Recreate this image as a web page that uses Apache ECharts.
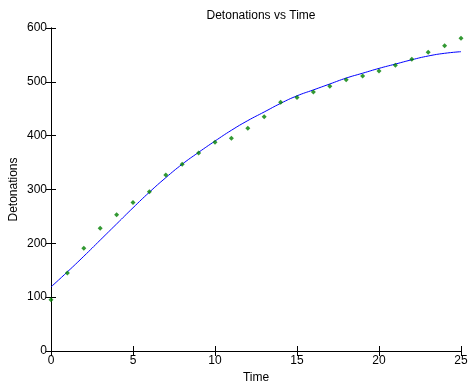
<!DOCTYPE html>
<html>
<head>
<meta charset="utf-8">
<script src="https://cdn.jsdelivr.net/npm/echarts@6/dist/echarts.min.js"></script>
<style>html,body{margin:0;padding:0;background:#fff}#c{width:468px;height:389px}</style>
</head>
<body>
<div id="c"></div>
<script>
const time = [0,1,2,3,4,5,6,7,8,9,10,11,12,13,14,15,16,17,18,19,20,21,22,23,24,25];
const detonations = [95,145,191,228,253,276,296,327,347,368,388,395,414,435,462,471,481,492,504,511,520,531,542,555,567,581];
const fitValues = [119,147,176,206,236,266,295,322,347,369,390,410,428,444,460,474,485,496,507,516,525,533,541,548,553,556];
const xTicks = [0,5,10,15,20,25];
const yTicks = [0,100,200,300,400,500,600];

const font = 'Liberation Sans, Arial, sans-serif';
const chart = echarts.init(document.getElementById('c'));
const axisLine = {show:true, lineStyle:{color:'#000', width:1}};
const tick = {show:true, inside:true, length:5, lineStyle:{color:'#000'}};
chart.setOption({
  animation:false,
  backgroundColor:'#fff',
  title:{text:'Detonations vs Time', left:256, top:5, textAlign:'center',
    textStyle:{fontFamily:font, fontSize:12, fontWeight:'normal', color:'#000'}},
  grid:{left:51, top:28, width:410, height:323, containLabel:false, outerBoundsMode:'none'},
  xAxis:[{type:'value', min:xTicks[0], max:xTicks[xTicks.length-1], interval:5,
      axisLine, axisTick:tick, splitLine:{show:false},
      axisLabel:{fontFamily:font, fontSize:12, color:'#000', margin:4},
      name:'Time', nameLocation:'middle', nameGap:21, nameMoveOverlap:false,
      nameTextStyle:{fontFamily:font, fontSize:12, color:'#000'}},
    {type:'value', position:'top', min:0, max:25, interval:5,
      axisLine, axisTick:tick, axisLabel:{show:false}, splitLine:{show:false}}],
  yAxis:[{type:'value', min:yTicks[0], max:yTicks[yTicks.length-1], interval:100,
      axisLine, axisTick:tick, splitLine:{show:false},
      axisLabel:{fontFamily:font, fontSize:12, color:'#000', margin:4},
      name:'Detonations', nameLocation:'middle', nameGap:31, nameMoveOverlap:false,
      nameTextStyle:{fontFamily:font, fontSize:12, color:'#000'}},
    {type:'value', position:'right', min:0, max:600, interval:100,
      axisLine, axisTick:tick, axisLabel:{show:false}, splitLine:{show:false}}],
  series:[
    {type:'line', data:time.map((t,i)=>[t,fitValues[i]]), smooth:true, showSymbol:false,
      lineStyle:{color:'#0000ff', width:1}, z:2},
    {type:'scatter', data:time.map((t,i)=>[t,detonations[i]]), symbol:'diamond', symbolSize:5,
      itemStyle:{color:'#008000'}, z:3}
  ]
});
</script>
</body>
</html>
